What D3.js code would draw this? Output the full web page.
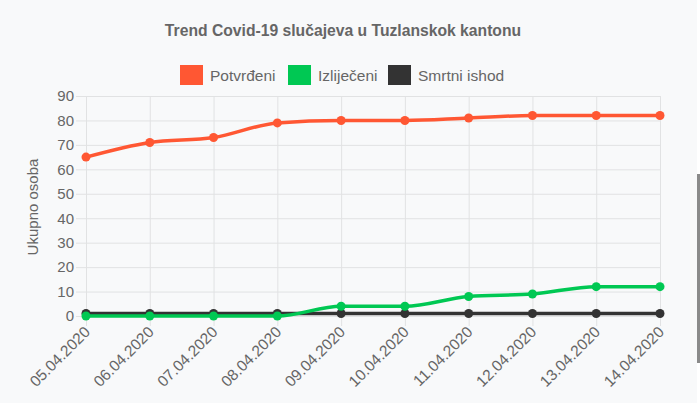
<!DOCTYPE html>
<html>
<head>
<meta charset="utf-8">
<script src="https://cdn.jsdelivr.net/npm/d3@7"></script>
<style>
  body { margin: 0; background: #f8f9fa; overflow: hidden; }
  text { font-family: "Liberation Sans", Arial, sans-serif; fill: #666; }
</style>
</head>
<body>
<svg id="chart" width="700" height="403"></svg>
<script>
// data
var dates = ["05.04.2020", "06.04.2020", "07.04.2020", "08.04.2020", "09.04.2020",
             "10.04.2020", "11.04.2020", "12.04.2020", "13.04.2020", "14.04.2020"];
var potvrdjeni = [65, 71, 73, 79, 80, 80, 81, 82, 82, 82];
var izlijeceni = [0, 0, 0, 0, 4, 4, 8, 9, 12, 12];
var smrtni = [1, 1, 1, 1, 1, 1, 1, 1, 1, 1];
var yTicks = [0, 10, 20, 30, 40, 50, 60, 70, 80, 90];

var series = [
  { name: "Potvrđeni", color: "#ff5733", values: potvrdjeni },
  { name: "Izliječeni", color: "#00c853", values: izlijeceni },
  { name: "Smrtni ishod", color: "#333333", values: smrtni }
];

var svg = d3.select("#chart");
// plot box (note: "top" is reserved on window, so use other names)
var pLeft = 86, pRight = 660, pTop = 96, pBottom = 316;

var x = d3.scalePoint().domain(dates).range([pLeft, pRight]);
var y = d3.scaleLinear().domain([0, 90]).range([pBottom, pTop]);

// title
svg.append("text")
  .attr("x", 343).attr("y", 36)
  .attr("text-anchor", "middle")
  .style("font-size", "15.7px").style("font-weight", "bold")
  .text("Trend Covid-19 slučajeva u Tuzlanskok kantonu");

// legend
var legendX = [180, 288, 388];
series.forEach(function (s, i) {
  var g = svg.append("g").attr("transform", "translate(" + legendX[i] + ",65)");
  g.append("rect").attr("width", 23).attr("height", 20).attr("fill", s.color);
  g.append("text").attr("x", 30).attr("y", 15.5)
    .style("font-size", "15.5px").text(s.name);
});

// grid
var yAxis = d3.axisLeft(y).tickValues(yTicks).tickSize(-(pRight - pLeft)).tickPadding(14);
var gy = svg.append("g").attr("transform", "translate(" + pLeft + ",0)").call(yAxis);
gy.select(".domain").remove();
gy.selectAll(".tick line").attr("x1", -10).attr("stroke", "#e1e2e3");
gy.selectAll(".tick text").style("font-size", "15px").attr("fill", "#666").attr("x", -12);

var xAxis = d3.axisBottom(x).tickSize(-(pBottom - pTop)).tickFormat("");
var gx = svg.append("g").attr("transform", "translate(0," + pBottom + ")").call(xAxis);
gx.select(".domain").remove();
gx.selectAll(".tick line").attr("y1", 10).attr("stroke", "#e1e2e3");

// rotated x labels
svg.append("g").selectAll("text")
  .data(dates)
  .join("text")
  .attr("text-anchor", "end")
  .attr("transform", function (d) { return "translate(" + (x(d) + 5) + ",333) rotate(-45)"; })
  .style("font-size", "15.5px")
  .text(function (d) { return d; });

// y axis title
svg.append("text")
  .attr("transform", "translate(38,207) rotate(-90)")
  .attr("text-anchor", "middle")
  .style("font-size", "15px")
  .text("Ukupno osoba");

// lines, drawn so the first series ends on top
var line = d3.line()
  .x(function (d, i) { return x(dates[i]); })
  .y(function (d) { return y(d); })
  .curve(d3.curveMonotoneX);

series.slice().reverse().forEach(function (s) {
  svg.append("path")
    .datum(s.values)
    .attr("d", line)
    .attr("fill", "none")
    .attr("stroke", s.color)
    .attr("stroke-width", 3.5);
  svg.append("g").selectAll("circle")
    .data(s.values)
    .join("circle")
    .attr("cx", function (d, i) { return x(dates[i]); })
    .attr("cy", function (d) { return y(d); })
    .attr("r", 4.5)
    .attr("fill", s.color);
});

// page scrollbar at the right edge
svg.append("rect").attr("x", 697).attr("y", 0).attr("width", 3).attr("height", 403).attr("fill", "#ffffff");
svg.append("rect").attr("x", 697).attr("y", 174).attr("width", 3).attr("height", 189).attr("fill", "#8a8a8a");
</script>
</body>
</html>
